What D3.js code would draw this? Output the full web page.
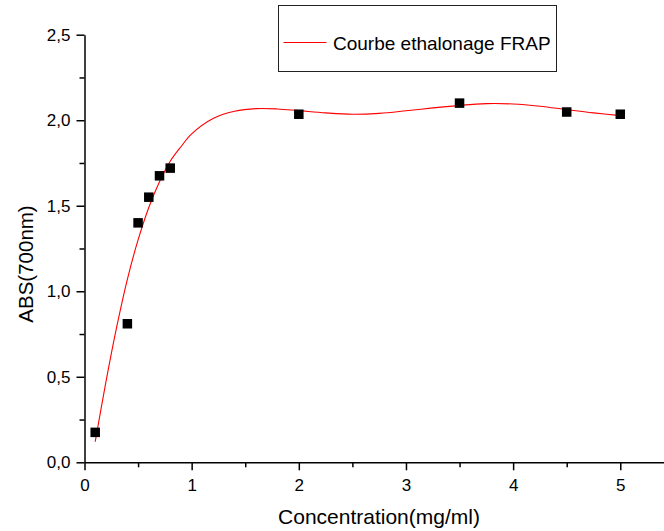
<!DOCTYPE html>
<html>
  <head>
    <title>Courbe ethalonage FRAP</title>
    <script src="https://d3js.org/d3.v7.min.js"></script>
    <style>
      body { margin: 0; background: #fff; }
      svg { display: block; }
      .axis path, .axis line { stroke: #000; stroke-width: 1.5px; }
      .axis text {
        font-family: "Liberation Sans", Arial, sans-serif;
        font-size: 17px;
        fill: #000;
      }
      .axis__label {
        font-family: "Liberation Sans", Arial, sans-serif;
        font-size: 21px;
        fill: #000;
      }
      .legend text {
        font-family: "Liberation Sans", Arial, sans-serif;
        font-size: 19px;
        fill: #000;
      }
    </style>
  </head>
  <body>
    <svg width="664" height="531"></svg>
    <script>
      // measured points
      const concentration = [0.1, 0.4, 0.5, 0.6, 0.7, 0.8, 2.0, 3.5, 4.5, 5.0];
      const absorbance = [0.175, 0.81, 1.40, 1.55, 1.675, 1.72, 2.035, 2.10, 2.048, 2.035];

      // fitted curve
      const fitX = [0.1, 0.2, 0.3, 0.4, 0.5, 0.6, 0.7, 0.8, 0.9, 1.0, 1.2, 1.4, 1.6, 1.8,
                    2.0, 2.25, 2.5, 2.75, 3.0, 3.25, 3.5, 3.75, 4.0, 4.25, 4.5, 4.75, 5.0];
      const fitY = [0.12, 0.47, 0.79, 1.07, 1.30, 1.49, 1.64, 1.76, 1.845, 1.92, 2.01, 2.052, 2.068, 2.066,
                    2.056, 2.043, 2.035, 2.04, 2.055, 2.072, 2.087, 2.097, 2.095, 2.082, 2.062, 2.043, 2.027];

      const xTicks = [0, 1, 2, 3, 4, 5];
      const xMinor = [0.5, 1.5, 2.5, 3.5, 4.5];
      const yTicks = [0, 0.5, 1.0, 1.5, 2.0, 2.5];
      const yMinor = [0.25, 0.75, 1.25, 1.75, 2.25];

      const legendLabel = "Courbe ethalonage FRAP";
      const xLabel = "Concentration(mg/ml)";
      const yLabel = "ABS(700nm)";

      const svg = d3.select("svg");

      const x = d3.scaleLinear().domain([0, 5.408]).range([84.5, 664]);
      const y = d3.scaleLinear().domain([0, 2.5]).range([462.3, 34.7]);

      const fr = d3.formatLocale({ decimal: ",", thousands: ".", grouping: [3], currency: ["", ""] });
      const yFormat = fr.format(".1f");

      // minor ticks first
      svg.append("g")
          .attr("class", "axis")
          .attr("transform", `translate(0, ${y(0)})`)
          .call(d3.axisBottom(x).tickValues(xMinor).tickSize(5).tickFormat(""))
          .call(g => g.select(".domain").remove());

      svg.append("g")
          .attr("class", "axis")
          .attr("transform", `translate(${x(0)}, 0)`)
          .call(d3.axisLeft(y).tickValues(yMinor).tickSize(5).tickFormat(""))
          .call(g => g.select(".domain").remove());

      const xAxisG = svg.append("g")
          .attr("class", "axis")
          .attr("transform", `translate(0, ${y(0)})`)
          .call(d3.axisBottom(x).tickValues(xTicks).tickSize(8).tickSizeOuter(0).tickPadding(9)
            .tickFormat(d3.format("d")));

      const yAxisG = svg.append("g")
          .attr("class", "axis")
          .attr("transform", `translate(${x(0)}, 0)`)
          .call(d3.axisLeft(y).tickValues(yTicks).tickSize(8).tickSizeOuter(0).tickPadding(6).tickFormat(yFormat));

      xAxisG.selectAll("text").attr("font-size", 16);

      svg.append("text")
          .attr("class", "axis__label")
          .attr("x", 379)
          .attr("y", 524)
          .attr("text-anchor", "middle")
          .text(xLabel);

      svg.append("text")
          .attr("class", "axis__label")
          .attr("transform", `translate(32.5, 264) rotate(-90)`)
          .attr("text-anchor", "middle")
          .attr("font-size", 20.5)
          .style("font-size", "20.5px")
          .text(yLabel);

      // fit curve
      const line = d3.line()
          .x(d => x(d[0]))
          .y(d => y(d[1]))
          .curve(d3.curveCatmullRom.alpha(0.5));

      svg.append("path")
          .datum(d3.zip(fitX, fitY))
          .attr("fill", "none")
          .attr("stroke", "#ff0000")
          .attr("stroke-width", 1.1)
          .attr("d", line);

      // points
      const size = 9.5;
      svg.append("g")
        .selectAll("rect")
        .data(d3.zip(concentration, absorbance))
        .enter().append("rect")
          .attr("x", d => x(d[0]) - size / 2)
          .attr("y", d => y(d[1]) - size / 2)
          .attr("width", size)
          .attr("height", size)
          .attr("fill", "#000");

      // legend
      const legendG = svg.append("g").attr("class", "legend");
      legendG.append("rect")
          .attr("x", 278.5)
          .attr("y", 5.5)
          .attr("width", 278)
          .attr("height", 66)
          .attr("fill", "#fff")
          .attr("stroke", "#222")
          .attr("stroke-width", 1);
      legendG.append("line")
          .attr("x1", 283.5)
          .attr("x2", 326.5)
          .attr("y1", 42.5)
          .attr("y2", 42.5)
          .attr("stroke", "#ff0000")
          .attr("stroke-width", 1.1);
      legendG.append("text")
          .attr("x", 333)
          .attr("y", 49.5)
          .text(legendLabel);
    </script>
  </body>
</html>
